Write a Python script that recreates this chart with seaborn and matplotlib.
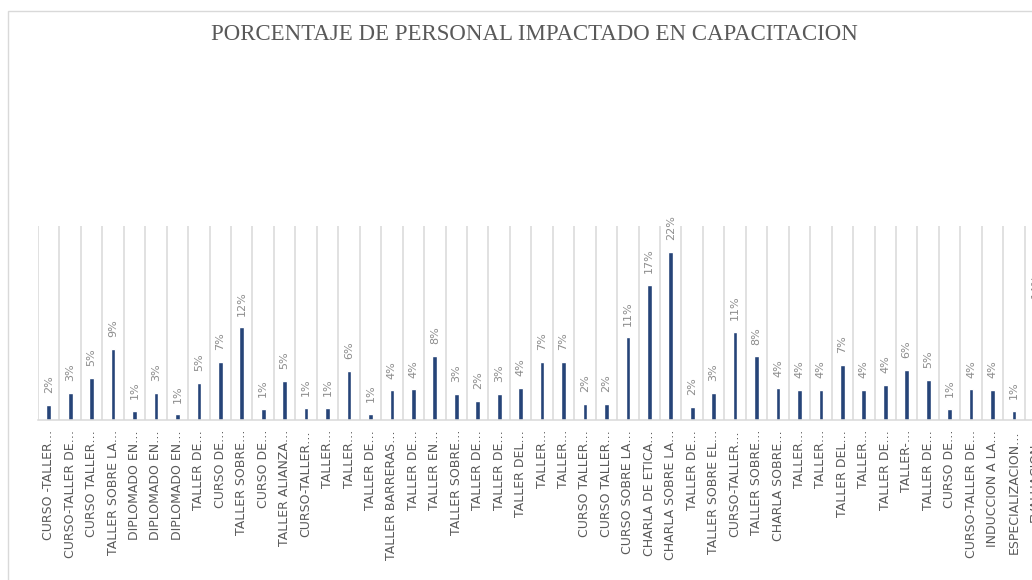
import numpy as np
import pandas as pd
import matplotlib
matplotlib.use("Agg")
import matplotlib.pyplot as plt
from matplotlib.patches import Rectangle
import seaborn as sns

title = "PORCENTAJE DE PERSONAL IMPACTADO EN CAPACITACION"

categories = [
    "CURSO -TALLER…", "CURSO-TALLER DE…", "CURSO TALLER…", "TALLER SOBRE LA…",
    "DIPLOMADO EN…", "DIPLOMADO EN…", "DIPLOMADO EN…", "TALLER DE…",
    "CURSO DE…", "TALLER SOBRE…", "CURSO DE…", "TALLER ALIANZA…",
    "CURSO-TALLER…", "TALLER…", "TALLER…", "TALLER DE…",
    "TALLER BARRERAS…", "TALLER DE…", "TALLER EN…", "TALLER SOBRE…",
    "TALLER DE…", "TALLER DE…", "TALLER DEL…", "TALLER…",
    "TALLER…", "CURSO TALLER…", "CURSO TALLER…", "CURSO SOBRE LA…",
    "CHARLA DE ETICA…", "CHARLA SOBRE LA…", "TALLER DE…", "TALLER SOBRE EL…",
    "CURSO-TALLER…", "TALLER SOBRE…", "CHARLA SOBRE…", "TALLER…",
    "TALLER…", "TALLER DEL…", "TALLER…", "TALLER DE…",
    "TALLER-…", "TALLER DE…", "CURSO DE…", "CURSO-TALLER DE…",
    "INDUCCION A LA…", "ESPECIALIZACION…", "EVALUACION…",
]

# percentage of personnel impacted
percent = [
    1.87, 3.39, 5.40, 9.11, 1.10, 3.39, 0.67, 4.72, 7.45, 11.91,
    1.36, 4.97, 1.45, 1.45, 6.23, 0.75, 3.77, 3.90, 8.24, 3.29,
    2.45, 3.29, 4.11, 7.45, 7.45, 2.04, 2.04, 10.60, 17.40, 21.70,
    1.61, 3.45, 11.27, 8.16, 4.03, 3.81, 3.81, 7.04, 3.81, 4.42,
    6.45, 5.14, 1.40, 3.90, 3.81, 1.14, 14.20,
]

sns.set_theme(style="white")
plt.rcParams["font.family"] = ["DejaVu Sans"]

W, H = 1032, 580
fig = plt.figure(figsize=(W / 100, H / 100), dpi=100)
fig.patch.set_facecolor("white")

n = len(categories)
step = 21.45
left_px, base_px, top_px = 38, 419.5, 226
ax = fig.add_axes([left_px / W, (H - base_px) / H,
                   n * step / W, (base_px - top_px) / H])

df = pd.DataFrame({"idx": np.arange(n), "value": np.array(percent) / 100.0})
sns.barplot(data=df, x="idx", y="value", color="#264478", saturation=1,
            width=0.22, ax=ax)

ax.set_xlim(-0.5, n - 0.5)
ax.set_ylim(0, 0.25)
ax.set_xlabel("")
ax.set_ylabel("")
ax.set_yticks([])

ax.set_xticks(np.arange(n))
ax.set_xticklabels(categories, rotation=90, fontsize=9, color="#595959")
ax.tick_params(axis="x", which="major", length=0, pad=7.5)
ax.set_xticks(np.arange(-0.5, n), minor=True)
ax.tick_params(axis="x", which="minor", length=0)
ax.grid(False)
ax.grid(which="minor", axis="x", color="#D9D9D9", linewidth=1.1)
for s in ["top", "right", "left"]:
    ax.spines[s].set_visible(False)
ax.spines["bottom"].set_color("#D9D9D9")
ax.spines["bottom"].set_linewidth(1.1)
ax.set_facecolor("none")

for i, v in enumerate(percent):
    ax.annotate(f"{v:.0f}%", (i, v / 100.0), xytext=(0, 8.5),
                textcoords="offset points", rotation=90, ha="center",
                va="bottom", fontsize=8, color="#8C8C8C",
                annotation_clip=False)

fig.text(534 / W, 1 - 34 / H, title, ha="center", va="center",
         fontsize=16.5, color="#595959", family=["Liberation Serif"])

border = Rectangle((8 / W, -0.2), 1.5, (H - 11) / H + 0.2,
                   transform=fig.transFigure, fill=False,
                   edgecolor="#D9D9D9", linewidth=1.0)
fig.patches.append(border)

fig.savefig("out.png", dpi=100)
